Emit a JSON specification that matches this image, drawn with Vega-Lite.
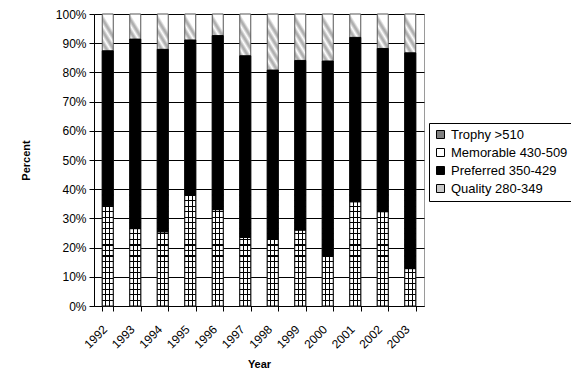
{
  "$schema": "https://vega.github.io/schema/vega-lite/v6.json",
  "width": 330,
  "height": 292,
  "autosize": {"type": "none"},
  "padding": {"left": 94, "top": 14, "right": 147, "bottom": 65},
  "background": "white",
  "config": {
    "font": "Liberation Sans",
    "view": {"stroke": "#9a9a9a", "strokeWidth": 1},
    "axis": {
      "labelFont": "Liberation Sans",
      "labelFontSize": 12,
      "labelColor": "#000000",
      "titleFont": "Liberation Sans",
      "titleFontSize": 11,
      "titleFontWeight": "bold",
      "titleColor": "#000000",
      "domainColor": "#000000",
      "domainWidth": 1,
      "tickColor": "#000000",
      "tickWidth": 1,
      "tickSize": 5
    },
    "axisY": {
      "format": ".0%",
      "grid": true,
      "gridColor": "#000000",
      "gridWidth": 1,
      "labelPadding": 3,
      "titlePadding": 24
    },
    "legend": {
      "orient": "none",
      "legendX": 335,
      "legendY": 109,
      "strokeColor": "#000000",
      "fillColor": "#ffffff",
      "padding": 5,
      "symbolType": "square",
      "symbolSize": 64,
      "symbolStrokeColor": "#000000",
      "symbolStrokeWidth": 1,
      "symbolOpacity": 1,
      "labelFont": "Liberation Sans",
      "labelFontSize": 13,
      "labelColor": "#000000",
      "labelOffset": 4,
      "rowPadding": 4
    }
  },
  "data": {
    "values": [
      {"Year": "1992", "Class": "Quality 280-349", "Rank": 1, "Percent": 34.3},
      {"Year": "1992", "Class": "Preferred 350-429", "Rank": 2, "Percent": 53.1},
      {"Year": "1992", "Class": "Memorable 430-509", "Rank": 3, "Percent": 12.6},
      {"Year": "1992", "Class": "Trophy >510", "Rank": 4, "Percent": 0},
      {"Year": "1993", "Class": "Quality 280-349", "Rank": 1, "Percent": 26.5},
      {"Year": "1993", "Class": "Preferred 350-429", "Rank": 2, "Percent": 64.9},
      {"Year": "1993", "Class": "Memorable 430-509", "Rank": 3, "Percent": 8.6},
      {"Year": "1993", "Class": "Trophy >510", "Rank": 4, "Percent": 0},
      {"Year": "1994", "Class": "Quality 280-349", "Rank": 1, "Percent": 25.4},
      {"Year": "1994", "Class": "Preferred 350-429", "Rank": 2, "Percent": 62.5},
      {"Year": "1994", "Class": "Memorable 430-509", "Rank": 3, "Percent": 12.1},
      {"Year": "1994", "Class": "Trophy >510", "Rank": 4, "Percent": 0},
      {"Year": "1995", "Class": "Quality 280-349", "Rank": 1, "Percent": 38.2},
      {"Year": "1995", "Class": "Preferred 350-429", "Rank": 2, "Percent": 52.9},
      {"Year": "1995", "Class": "Memorable 430-509", "Rank": 3, "Percent": 8.9},
      {"Year": "1995", "Class": "Trophy >510", "Rank": 4, "Percent": 0},
      {"Year": "1996", "Class": "Quality 280-349", "Rank": 1, "Percent": 33.0},
      {"Year": "1996", "Class": "Preferred 350-429", "Rank": 2, "Percent": 59.6},
      {"Year": "1996", "Class": "Memorable 430-509", "Rank": 3, "Percent": 7.4},
      {"Year": "1996", "Class": "Trophy >510", "Rank": 4, "Percent": 0},
      {"Year": "1997", "Class": "Quality 280-349", "Rank": 1, "Percent": 23.5},
      {"Year": "1997", "Class": "Preferred 350-429", "Rank": 2, "Percent": 62.2},
      {"Year": "1997", "Class": "Memorable 430-509", "Rank": 3, "Percent": 14.3},
      {"Year": "1997", "Class": "Trophy >510", "Rank": 4, "Percent": 0},
      {"Year": "1998", "Class": "Quality 280-349", "Rank": 1, "Percent": 22.8},
      {"Year": "1998", "Class": "Preferred 350-429", "Rank": 2, "Percent": 58.0},
      {"Year": "1998", "Class": "Memorable 430-509", "Rank": 3, "Percent": 19.2},
      {"Year": "1998", "Class": "Trophy >510", "Rank": 4, "Percent": 0},
      {"Year": "1999", "Class": "Quality 280-349", "Rank": 1, "Percent": 26.0},
      {"Year": "1999", "Class": "Preferred 350-429", "Rank": 2, "Percent": 58.1},
      {"Year": "1999", "Class": "Memorable 430-509", "Rank": 3, "Percent": 15.9},
      {"Year": "1999", "Class": "Trophy >510", "Rank": 4, "Percent": 0},
      {"Year": "2000", "Class": "Quality 280-349", "Rank": 1, "Percent": 17.4},
      {"Year": "2000", "Class": "Preferred 350-429", "Rank": 2, "Percent": 66.5},
      {"Year": "2000", "Class": "Memorable 430-509", "Rank": 3, "Percent": 16.1},
      {"Year": "2000", "Class": "Trophy >510", "Rank": 4, "Percent": 0},
      {"Year": "2001", "Class": "Quality 280-349", "Rank": 1, "Percent": 35.7},
      {"Year": "2001", "Class": "Preferred 350-429", "Rank": 2, "Percent": 56.3},
      {"Year": "2001", "Class": "Memorable 430-509", "Rank": 3, "Percent": 8.0},
      {"Year": "2001", "Class": "Trophy >510", "Rank": 4, "Percent": 0},
      {"Year": "2002", "Class": "Quality 280-349", "Rank": 1, "Percent": 32.3},
      {"Year": "2002", "Class": "Preferred 350-429", "Rank": 2, "Percent": 55.9},
      {"Year": "2002", "Class": "Memorable 430-509", "Rank": 3, "Percent": 11.8},
      {"Year": "2002", "Class": "Trophy >510", "Rank": 4, "Percent": 0},
      {"Year": "2003", "Class": "Quality 280-349", "Rank": 1, "Percent": 12.8},
      {"Year": "2003", "Class": "Preferred 350-429", "Rank": 2, "Percent": 73.9},
      {"Year": "2003", "Class": "Memorable 430-509", "Rank": 3, "Percent": 13.3},
      {"Year": "2003", "Class": "Trophy >510", "Rank": 4, "Percent": 0}
    ]
  },
  "transform": [
    {"stack": "Percent", "groupby": ["Year"], "sort": [{"field": "Rank", "order": "ascending"}], "offset": "normalize", "as": ["lo", "hi"]}
  ],
  "encoding": {
    "x": {
      "field": "Year",
      "type": "nominal",
      "title": "Year",
      "scale": {"paddingInner": 0.6, "paddingOuter": 0.3},
      "axis": {
        "labelAngle": -45,
        "labelAlign": "right",
        "labelBaseline": "middle",
        "labelPadding": 16,
        "labelOffset": -3,
        "tickBand": "extent",
        "titlePadding": 8,
        "grid": false
      }
    }
  },
  "layer": [
    {
      "transform": [{"filter": "datum.Class === 'Memorable 430-509'"}],
      "mark": {
        "type": "bar",
        "stroke": "#555555",
        "strokeWidth": 1,
        "fill": {
          "gradient": "linear",
          "x1": 0, "y1": 1, "x2": 0.062, "y2": 0,
          "stops": [
            {"offset": 0, "color": "#ffffff"},
            {"offset": 0.72, "color": "#ffffff"},
            {"offset": 0.736, "color": "#b0b0b0"},
            {"offset": 0.744, "color": "#b0b0b0"},
            {"offset": 0.76, "color": "#ffffff"},
            {"offset": 0.776, "color": "#b0b0b0"},
            {"offset": 0.784, "color": "#b0b0b0"},
            {"offset": 0.8, "color": "#ffffff"},
            {"offset": 0.816, "color": "#b0b0b0"},
            {"offset": 0.824, "color": "#b0b0b0"},
            {"offset": 0.84, "color": "#ffffff"},
            {"offset": 0.856, "color": "#b0b0b0"},
            {"offset": 0.864, "color": "#b0b0b0"},
            {"offset": 0.88, "color": "#ffffff"},
            {"offset": 0.896, "color": "#b0b0b0"},
            {"offset": 0.904, "color": "#b0b0b0"},
            {"offset": 0.92, "color": "#ffffff"},
            {"offset": 0.936, "color": "#b0b0b0"},
            {"offset": 0.944, "color": "#b0b0b0"},
            {"offset": 0.96, "color": "#ffffff"},
            {"offset": 0.976, "color": "#b0b0b0"},
            {"offset": 0.984, "color": "#b0b0b0"},
            {"offset": 1, "color": "#ffffff"}
          ]
        }
      },
      "encoding": {
        "y": {
          "datum": 1,
          "type": "quantitative",
          "title": "Percent",
          "scale": {"domain": [0, 1], "nice": false, "zero": true},
          "axis": {"values": [0, 0.1, 0.2, 0.3, 0.4, 0.5, 0.6, 0.7, 0.8, 0.9, 1]}
        },
        "y2": {"datum": 0}
      }
    },
    {
      "transform": [{"filter": "datum.Class === 'Quality 280-349'"}],
      "mark": {
        "type": "bar",
        "stroke": "#000000",
        "strokeWidth": 1,
        "fill": {
          "gradient": "linear",
          "x1": 0, "y1": 0, "x2": 1, "y2": 0,
          "stops": [
            {"offset": 0, "color": "#ffffff"},
            {"offset": 0.285, "color": "#ffffff"},
            {"offset": 0.285, "color": "#000000"},
            {"offset": 0.375, "color": "#000000"},
            {"offset": 0.375, "color": "#ffffff"},
            {"offset": 0.625, "color": "#ffffff"},
            {"offset": 0.625, "color": "#000000"},
            {"offset": 0.715, "color": "#000000"},
            {"offset": 0.715, "color": "#ffffff"},
            {"offset": 1, "color": "#ffffff"}
          ]
        }
      },
      "encoding": {
        "y": {"field": "lo", "type": "quantitative", "title": "Percent", "axis": {"values": [0, 0.1, 0.2, 0.3, 0.4, 0.5, 0.6, 0.7, 0.8, 0.9, 1]}},
        "y2": {"field": "hi"}
      }
    },
    {
      "transform": [{"filter": "datum.Class === 'Quality 280-349'"}],
      "mark": {
        "type": "bar",
        "fill": {
          "gradient": "linear",
          "x1": 0, "y1": 1, "x2": 0, "y2": 0,
          "stops": [
            {"offset": 0, "color": "rgba(0,0,0,0)"},
            {"offset": 0.017, "color": "rgba(0,0,0,0)"}, {"offset": 0.017, "color": "#000000"}, {"offset": 0.021, "color": "#000000"}, {"offset": 0.021, "color": "rgba(0,0,0,0)"},
            {"offset": 0.036, "color": "rgba(0,0,0,0)"}, {"offset": 0.036, "color": "#000000"}, {"offset": 0.040, "color": "#000000"}, {"offset": 0.040, "color": "rgba(0,0,0,0)"},
            {"offset": 0.055, "color": "rgba(0,0,0,0)"}, {"offset": 0.055, "color": "#000000"}, {"offset": 0.059, "color": "#000000"}, {"offset": 0.059, "color": "rgba(0,0,0,0)"},
            {"offset": 0.074, "color": "rgba(0,0,0,0)"}, {"offset": 0.074, "color": "#000000"}, {"offset": 0.078, "color": "#000000"}, {"offset": 0.078, "color": "rgba(0,0,0,0)"},
            {"offset": 0.093, "color": "rgba(0,0,0,0)"}, {"offset": 0.093, "color": "#000000"}, {"offset": 0.097, "color": "#000000"}, {"offset": 0.097, "color": "rgba(0,0,0,0)"},
            {"offset": 0.112, "color": "rgba(0,0,0,0)"}, {"offset": 0.112, "color": "#000000"}, {"offset": 0.116, "color": "#000000"}, {"offset": 0.116, "color": "rgba(0,0,0,0)"},
            {"offset": 0.131, "color": "rgba(0,0,0,0)"}, {"offset": 0.131, "color": "#000000"}, {"offset": 0.135, "color": "#000000"}, {"offset": 0.135, "color": "rgba(0,0,0,0)"},
            {"offset": 0.150, "color": "rgba(0,0,0,0)"}, {"offset": 0.150, "color": "#000000"}, {"offset": 0.154, "color": "#000000"}, {"offset": 0.154, "color": "rgba(0,0,0,0)"},
            {"offset": 0.169, "color": "rgba(0,0,0,0)"}, {"offset": 0.169, "color": "#000000"}, {"offset": 0.173, "color": "#000000"}, {"offset": 0.173, "color": "rgba(0,0,0,0)"},
            {"offset": 0.188, "color": "rgba(0,0,0,0)"}, {"offset": 0.188, "color": "#000000"}, {"offset": 0.192, "color": "#000000"}, {"offset": 0.192, "color": "rgba(0,0,0,0)"},
            {"offset": 0.207, "color": "rgba(0,0,0,0)"}, {"offset": 0.207, "color": "#000000"}, {"offset": 0.211, "color": "#000000"}, {"offset": 0.211, "color": "rgba(0,0,0,0)"},
            {"offset": 0.226, "color": "rgba(0,0,0,0)"}, {"offset": 0.226, "color": "#000000"}, {"offset": 0.230, "color": "#000000"}, {"offset": 0.230, "color": "rgba(0,0,0,0)"},
            {"offset": 0.245, "color": "rgba(0,0,0,0)"}, {"offset": 0.245, "color": "#000000"}, {"offset": 0.249, "color": "#000000"}, {"offset": 0.249, "color": "rgba(0,0,0,0)"},
            {"offset": 0.264, "color": "rgba(0,0,0,0)"}, {"offset": 0.264, "color": "#000000"}, {"offset": 0.268, "color": "#000000"}, {"offset": 0.268, "color": "rgba(0,0,0,0)"},
            {"offset": 0.283, "color": "rgba(0,0,0,0)"}, {"offset": 0.283, "color": "#000000"}, {"offset": 0.287, "color": "#000000"}, {"offset": 0.287, "color": "rgba(0,0,0,0)"},
            {"offset": 0.302, "color": "rgba(0,0,0,0)"}, {"offset": 0.302, "color": "#000000"}, {"offset": 0.306, "color": "#000000"}, {"offset": 0.306, "color": "rgba(0,0,0,0)"},
            {"offset": 0.321, "color": "rgba(0,0,0,0)"}, {"offset": 0.321, "color": "#000000"}, {"offset": 0.325, "color": "#000000"}, {"offset": 0.325, "color": "rgba(0,0,0,0)"},
            {"offset": 0.340, "color": "rgba(0,0,0,0)"}, {"offset": 0.340, "color": "#000000"}, {"offset": 0.344, "color": "#000000"}, {"offset": 0.344, "color": "rgba(0,0,0,0)"},
            {"offset": 0.359, "color": "rgba(0,0,0,0)"}, {"offset": 0.359, "color": "#000000"}, {"offset": 0.363, "color": "#000000"}, {"offset": 0.363, "color": "rgba(0,0,0,0)"},
            {"offset": 0.378, "color": "rgba(0,0,0,0)"}, {"offset": 0.378, "color": "#000000"}, {"offset": 0.382, "color": "#000000"}, {"offset": 0.382, "color": "rgba(0,0,0,0)"},
            {"offset": 0.397, "color": "rgba(0,0,0,0)"}, {"offset": 0.397, "color": "#000000"}, {"offset": 0.401, "color": "#000000"}, {"offset": 0.401, "color": "rgba(0,0,0,0)"},
            {"offset": 1, "color": "rgba(0,0,0,0)"}
          ]
        }
      },
      "encoding": {
        "y": {"datum": 1, "type": "quantitative", "title": "Percent", "axis": {"values": [0, 0.1, 0.2, 0.3, 0.4, 0.5, 0.6, 0.7, 0.8, 0.9, 1]}},
        "y2": {"datum": 0}
      }
    },
    {
      "transform": [{"filter": "datum.Class === 'Preferred 350-429'"}],
      "mark": {"type": "bar", "fill": "#000000", "stroke": "#000000", "strokeWidth": 1},
      "encoding": {
        "y": {"field": "lo", "type": "quantitative", "title": "Percent", "axis": {"values": [0, 0.1, 0.2, 0.3, 0.4, 0.5, 0.6, 0.7, 0.8, 0.9, 1]}},
        "y2": {"field": "hi"}
      }
    },
    {
      "transform": [{"filter": "datum.Class === 'Trophy >510'"}],
      "mark": {"type": "bar"},
      "encoding": {
        "y": {"field": "lo", "type": "quantitative", "title": "Percent", "axis": {"values": [0, 0.1, 0.2, 0.3, 0.4, 0.5, 0.6, 0.7, 0.8, 0.9, 1]}},
        "y2": {"field": "hi"},
        "fill": {
          "field": "Class",
          "type": "nominal",
          "scale": {
            "domain": ["Trophy >510", "Memorable 430-509", "Preferred 350-429", "Quality 280-349"],
            "range": ["#808080", "#ffffff", "#000000", "#c8c8c8"]
          },
          "legend": {"title": null}
        }
      }
    }
  ]
}
